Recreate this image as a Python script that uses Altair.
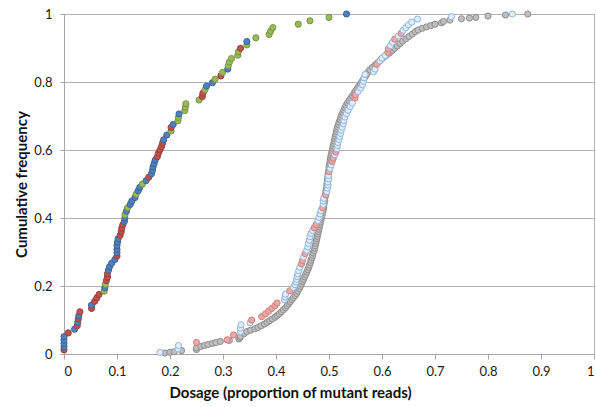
import altair as alt
import pandas as pd

# ---- Left cluster (filled markers): x, cumulative y, colour group ----
left_x = [0.000, 0.000, 0.000, 0.000, 0.000, 0.008, 0.020, 0.025, 0.026, 0.027,
          0.028, 0.030, 0.052, 0.052, 0.058, 0.062, 0.066, 0.076, 0.077, 0.078,
          0.080, 0.082, 0.082, 0.084, 0.086, 0.090, 0.096, 0.100, 0.100, 0.100,
          0.100, 0.101, 0.102, 0.106, 0.108, 0.109, 0.111, 0.114, 0.115, 0.115,
          0.118, 0.120, 0.125, 0.128, 0.134, 0.136, 0.140, 0.143, 0.148, 0.155,
          0.160, 0.165, 0.167, 0.168, 0.170, 0.172, 0.176, 0.178, 0.181, 0.184,
          0.186, 0.188, 0.194, 0.202, 0.202, 0.206, 0.215, 0.216, 0.217, 0.228,
          0.229, 0.230, 0.255, 0.261, 0.262, 0.266, 0.269, 0.280, 0.285, 0.296,
          0.299, 0.309, 0.310, 0.312, 0.316, 0.328, 0.329, 0.333, 0.345, 0.345,
          0.362, 0.387, 0.390, 0.394, 0.442, 0.464, 0.500, 0.533]
left_y = [0.012, 0.021, 0.031, 0.041, 0.051, 0.062, 0.073, 0.083, 0.093, 0.103,
          0.113, 0.124, 0.134, 0.144, 0.155, 0.165, 0.175, 0.185, 0.195, 0.205,
          0.216, 0.226, 0.236, 0.247, 0.257, 0.267, 0.278, 0.288, 0.298, 0.308,
          0.319, 0.329, 0.339, 0.349, 0.360, 0.370, 0.380, 0.390, 0.400, 0.410,
          0.420, 0.430, 0.440, 0.450, 0.460, 0.470, 0.480, 0.490, 0.500, 0.510,
          0.520, 0.530, 0.540, 0.550, 0.560, 0.570, 0.580, 0.590, 0.600, 0.610,
          0.620, 0.630, 0.644, 0.656, 0.666, 0.675, 0.686, 0.696, 0.706, 0.716,
          0.726, 0.736, 0.747, 0.757, 0.767, 0.777, 0.788, 0.798, 0.808, 0.818,
          0.828, 0.838, 0.848, 0.859, 0.869, 0.879, 0.889, 0.899, 0.909, 0.919,
          0.930, 0.940, 0.950, 0.960, 0.970, 0.980, 0.990, 1.000]
left_grp = list("rbbbbrbrbr" "brrbrrrgbg" "rrrbbbbrbb" "bbbrrrrbbg" "bgbbbgbbgb"
                "rbbbbbrrrr" "rbbgrbggbg" "gggrrgbbgr" "gbgggggrgb" "gggggggb")

# ---- Right cluster, open markers (light blue / light red) ----
rb_x = [0.181, 0.215, 0.216, 0.250, 0.308, 0.320, 0.333, 0.333, 0.334, 0.351,
        0.354, 0.373, 0.380, 0.386, 0.392, 0.398, 0.402, 0.416, 0.417, 0.418,
        0.426, 0.433, 0.436, 0.438, 0.439, 0.440, 0.441, 0.443, 0.445, 0.448,
        0.450, 0.452, 0.455, 0.458, 0.460, 0.461, 0.463, 0.464, 0.466, 0.469,
        0.472, 0.476, 0.479, 0.481, 0.483, 0.485, 0.488, 0.489, 0.489, 0.490,
        0.494, 0.496, 0.497, 0.498, 0.498, 0.499, 0.499, 0.500, 0.502, 0.504,
        0.506, 0.508, 0.511, 0.513, 0.515, 0.516, 0.517, 0.519, 0.520, 0.522,
        0.523, 0.525, 0.527, 0.528, 0.530, 0.533, 0.536, 0.540, 0.544, 0.549,
        0.550, 0.555, 0.560, 0.563, 0.565, 0.566, 0.568, 0.584, 0.587, 0.590,
        0.596, 0.600, 0.606, 0.611, 0.612, 0.616, 0.620, 0.624, 0.631, 0.636,
        0.640, 0.645, 0.650, 0.656, 0.667, 0.731, 0.846]
rb_y = [0.005, 0.015, 0.025, 0.034, 0.042, 0.056, 0.066, 0.076, 0.086, 0.092,
        0.100, 0.110, 0.118, 0.126, 0.134, 0.142, 0.150, 0.160, 0.168, 0.176,
        0.186, 0.196, 0.204, 0.212, 0.220, 0.228, 0.236, 0.245, 0.255, 0.265,
        0.275, 0.285, 0.295, 0.305, 0.315, 0.325, 0.335, 0.345, 0.355, 0.363,
        0.371, 0.381, 0.392, 0.402, 0.412, 0.421, 0.430, 0.440, 0.450, 0.458,
        0.468, 0.478, 0.488, 0.497, 0.506, 0.515, 0.525, 0.536, 0.546, 0.556,
        0.566, 0.576, 0.586, 0.594, 0.604, 0.613, 0.622, 0.631, 0.640, 0.649,
        0.658, 0.667, 0.677, 0.687, 0.697, 0.707, 0.717, 0.728, 0.738, 0.753,
        0.762, 0.772, 0.782, 0.792, 0.802, 0.812, 0.822, 0.830, 0.838, 0.852,
        0.862, 0.870, 0.878, 0.887, 0.897, 0.907, 0.917, 0.926, 0.935, 0.943,
        0.952, 0.960, 0.968, 0.976, 0.985, 0.992, 1.000]
rb_grp = list("bbbrrrbbbb" "rrrrrrrbbb" "rbbbbbbbbr" "rbrbbbbbbb" "rrbbbbrbbb"
              "rbbbbbbrbb" "rrbrbbbbbb" "bbbbbbbbbr" "rbbbbbbbbr" "bbbrrbbrbr" "bbbbbbb")

# ---- Right cluster, grey markers ----
gray_x = [0.190, 0.200, 0.208, 0.222, 0.250, 0.250, 0.258, 0.265, 0.272, 0.280,
          0.287, 0.295, 0.312, 0.330, 0.332, 0.333, 0.340, 0.345, 0.352, 0.360,
          0.366, 0.372, 0.378, 0.383, 0.388, 0.393, 0.398, 0.402, 0.406, 0.410,
          0.414, 0.418, 0.421, 0.424, 0.427, 0.430, 0.433, 0.436, 0.439, 0.441,
          0.444, 0.446, 0.448, 0.450, 0.452, 0.454, 0.456, 0.458, 0.460, 0.462,
          0.463, 0.465, 0.466, 0.468, 0.469, 0.470, 0.472, 0.473, 0.474, 0.475,
          0.476, 0.477, 0.478, 0.479, 0.480, 0.481, 0.482, 0.483, 0.484, 0.485,
          0.486, 0.487, 0.488, 0.489, 0.490, 0.490, 0.491, 0.492, 0.492, 0.493,
          0.494, 0.494, 0.495, 0.496, 0.496, 0.497, 0.497, 0.498, 0.498, 0.499,
          0.500, 0.500, 0.501, 0.502, 0.502, 0.503, 0.504, 0.505, 0.506, 0.507,
          0.508, 0.509, 0.510, 0.511, 0.512, 0.513, 0.514, 0.515, 0.516, 0.518,
          0.519, 0.521, 0.522, 0.524, 0.526, 0.528, 0.530, 0.532, 0.535, 0.538,
          0.541, 0.544, 0.547, 0.550, 0.553, 0.556, 0.559, 0.562, 0.565, 0.568,
          0.571, 0.574, 0.577, 0.582, 0.587, 0.592, 0.597, 0.602, 0.608, 0.614,
          0.619, 0.624, 0.629, 0.634, 0.639, 0.645, 0.651, 0.657, 0.663, 0.668,
          0.676, 0.684, 0.692, 0.700, 0.712, 0.716, 0.728, 0.750, 0.765, 0.777,
          0.800, 0.833, 0.875]
gray_y = [0.003, 0.005, 0.007, 0.010, 0.013, 0.018, 0.022, 0.025, 0.028, 0.031,
          0.034, 0.037, 0.040, 0.044, 0.048, 0.052, 0.060, 0.066, 0.070, 0.074,
          0.078, 0.083, 0.088, 0.093, 0.098, 0.103, 0.108, 0.113, 0.118, 0.124,
          0.130, 0.136, 0.142, 0.148, 0.154, 0.160, 0.166, 0.172, 0.178, 0.185,
          0.192, 0.199, 0.206, 0.213, 0.220, 0.227, 0.234, 0.241, 0.248, 0.255,
          0.262, 0.269, 0.276, 0.283, 0.290, 0.297, 0.304, 0.311, 0.318, 0.325,
          0.332, 0.339, 0.346, 0.353, 0.360, 0.367, 0.374, 0.381, 0.388, 0.395,
          0.402, 0.409, 0.416, 0.423, 0.430, 0.437, 0.444, 0.451, 0.458, 0.465,
          0.472, 0.479, 0.486, 0.493, 0.500, 0.507, 0.514, 0.521, 0.528, 0.535,
          0.542, 0.549, 0.556, 0.563, 0.570, 0.577, 0.584, 0.591, 0.598, 0.605,
          0.612, 0.619, 0.626, 0.633, 0.640, 0.647, 0.654, 0.661, 0.668, 0.675,
          0.682, 0.689, 0.696, 0.703, 0.710, 0.717, 0.724, 0.731, 0.738, 0.745,
          0.752, 0.759, 0.766, 0.773, 0.780, 0.787, 0.794, 0.801, 0.808, 0.815,
          0.822, 0.829, 0.836, 0.843, 0.850, 0.857, 0.864, 0.871, 0.878, 0.885,
          0.892, 0.899, 0.906, 0.913, 0.920, 0.927, 0.934, 0.941, 0.948, 0.953,
          0.958, 0.962, 0.966, 0.970, 0.974, 0.978, 0.982, 0.986, 0.988, 0.990,
          0.994, 0.997, 1.000]

x_ticks = [0, 0.1, 0.2, 0.3, 0.4, 0.5, 0.6, 0.7, 0.8, 0.9, 1]
y_ticks = [0, 0.2, 0.4, 0.6, 0.8, 1]

series_names = ["Grey", "Light blue", "Light red", "Red", "Blue", "Green"]
fill_colors = ["#BFBFBF", "#E3EDF8", "#E8A9A7", "#C0504D", "#4F81BD", "#9BBB59"]
stroke_colors = ["#8E8E8E", "#8DB4E2", "#D27F7C", "#98403D", "#3B6496", "#779243"]

left_map = {"r": "Red", "b": "Blue", "g": "Green"}
rb_map = {"b": "Light blue", "r": "Light red"}

rows = []
for x, y in zip(gray_x, gray_y):
    rows.append({"x": x, "y": y, "series": "Grey", "ord": 0})
for x, y, g in zip(rb_x, rb_y, rb_grp):
    rows.append({"x": x, "y": y, "series": rb_map[g], "ord": 1})
for x, y, g in zip(left_x, left_y, left_grp):
    rows.append({"x": x, "y": y, "series": left_map[g], "ord": 2})
df = pd.DataFrame(rows)

FONT = "Lato"

chart = alt.Chart(df).mark_point(filled=True, opacity=1, strokeWidth=1, size=38, shape="circle").encode(
    x=alt.X("x:Q",
            scale=alt.Scale(domain=[0, 1], nice=False),
            axis=alt.Axis(values=x_ticks, format=".1~f", title="Dosage (proportion of mutant reads)",
                          grid=False, tickSize=5, labelPadding=6, domainColor="#A6A6A6",
                          tickColor="#A6A6A6", labelFontSize=13, labelColor="#1a1a1a",
                          titleFontSize=15, titleFontWeight="bold", titleColor="#111",
                          titleX=226, titleY=38, titleBaseline="middle", titleAlign="center")),
    y=alt.Y("y:Q",
            scale=alt.Scale(domain=[0, 1], nice=False),
            axis=alt.Axis(values=y_ticks, format=".1~f", title="Cumulative frequency",
                          grid=True, gridColor="#B3B3B3", tickSize=4, labelPadding=8,
                          domainColor="#A6A6A6", tickColor="#A6A6A6", labelFontSize=13,
                          labelColor="#1a1a1a", titleFontSize=15, titleFontWeight="bold",
                          titleColor="#111", titleX=-43, titleY=170, titleBaseline="middle",
                          titleAlign="center", titleAngle=270)),
    fill=alt.Fill("series:N", scale=alt.Scale(domain=series_names, range=fill_colors), legend=None),
    stroke=alt.Stroke("series:N", scale=alt.Scale(domain=series_names, range=stroke_colors), legend=None),
    order=alt.Order("ord:Q"),
).properties(
    width=530, height=340,
    autosize=alt.AutoSizeParams(type="none"),
    padding={"left": 64, "top": 14, "right": 2, "bottom": 53},
).configure(
    font=FONT, background="white"
).configure_view(
    stroke="#B3B3B3", strokeWidth=1
)

chart.save("out.html", embed_options={"renderer": "svg", "actions": False})
